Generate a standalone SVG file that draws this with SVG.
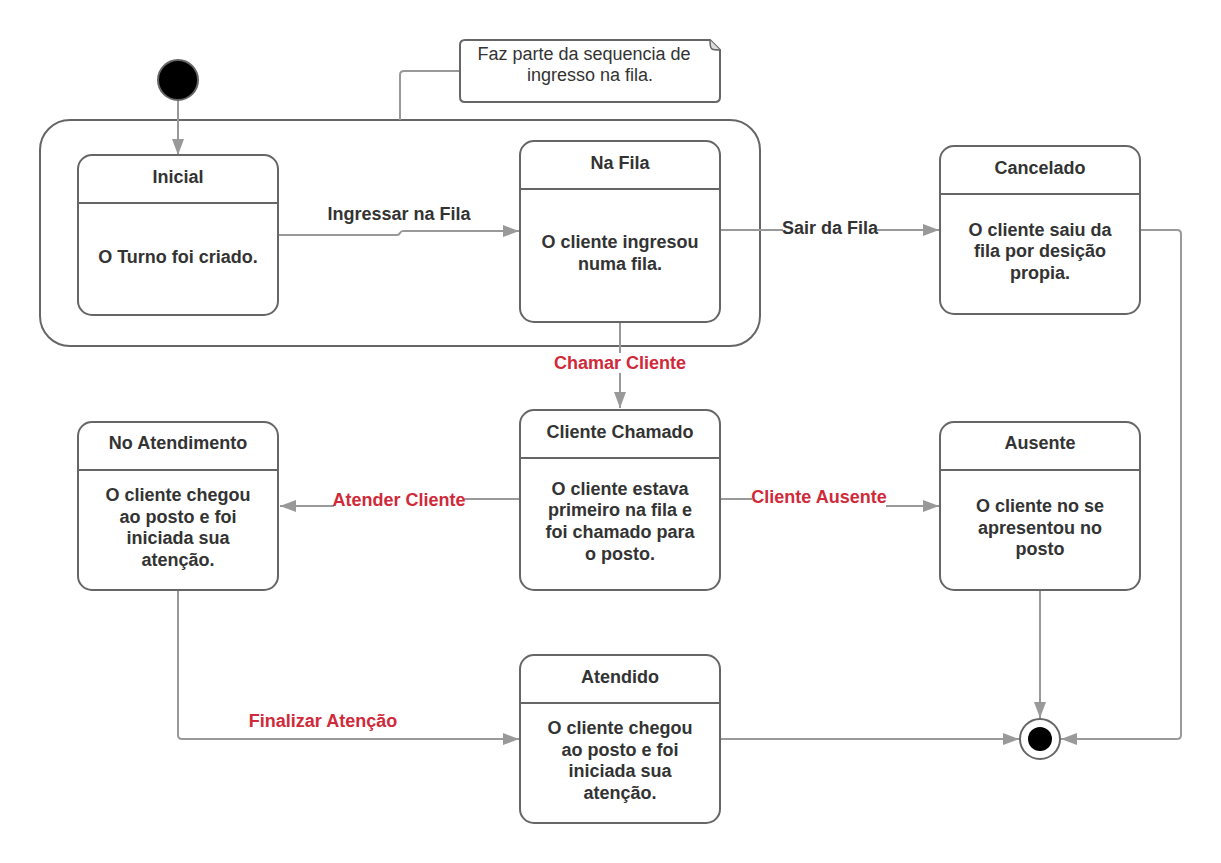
<svg xmlns="http://www.w3.org/2000/svg" width="1221" height="863" viewBox="0 0 1221 863">
<style>
.st{fill:#fff;stroke:#666;stroke-width:2}
.dv{stroke:#666;stroke-width:2}
.t{font-family:"Liberation Sans",Arial,sans-serif;font-size:18px;font-weight:bold;fill:#333;text-anchor:middle}
.n{font-family:"Liberation Sans",Arial,sans-serif;font-size:18px;fill:#333;text-anchor:middle}
.r{font-family:"Liberation Sans",Arial,sans-serif;font-size:18px;font-weight:bold;fill:#d02a3a;text-anchor:middle}
.c{fill:none;stroke:#999;stroke-width:2;marker-end:url(#ah)}
.cn{fill:none;stroke:#999;stroke-width:2}
</style>
<defs>
<marker id="ah" markerWidth="16" markerHeight="12" refX="16" refY="6" orient="auto" markerUnits="userSpaceOnUse">
<path d="M0,0 L16,6 L0,12 Z" fill="#999"/>
</marker>
</defs>
<rect width="1221" height="863" fill="#fff"/>
<g id="container"><rect x="40" y="120" width="720" height="226" rx="30" class="st"/></g>
<g id="connectors">
<path class="cn" d="M460,71 H404 Q400,71 400,75 V120"/>
<path class="c" d="M178,100 V155"/>
<path class="c" d="M278,235 H397 Q399,235 400,233 Q401,231 403,231 H519"/>
<path class="c" d="M720,230 H939"/>
<path class="c" d="M620,322 V408"/>
<path class="c" d="M520,499 H399 V506 H280"/>
<path class="c" d="M720,499 H829 V506 H939"/>
<path class="c" d="M1040,590 V718"/>
<path class="c" d="M1140,230 H1177 Q1181,230 1181,234 V735 Q1181,739 1177,739 H1061"/>
<path class="c" d="M178,590 V735 Q178,739 182,739 H519"/>
<path class="c" d="M720,739 H1019"/>
<rect x="783" y="219" width="94" height="18" fill="#fff"/>
<text class="t" x="830" y="234">Sair da Fila</text>
<text class="t" x="399" y="220">Ingressar na Fila</text>
<rect x="555" y="353" width="130" height="20" fill="#fff"/>
<text class="r" x="620" y="369">Chamar Cliente</text>
<rect x="334" y="490" width="130" height="20" fill="#fff"/>
<text class="r" x="399" y="506">Atender Cliente</text>
<rect x="752" y="488" width="134" height="20" fill="#fff"/>
<text class="r" x="819" y="503">Cliente Ausente</text>
<text class="r" x="323" y="727">Finalizar Atenção</text>
</g>
<g id="start"><circle cx="178" cy="80" r="20" fill="#000" stroke="#666" stroke-width="2"/></g>
<g id="note">
<path d="M465,40 H710 L720,50 V97 Q720,102 715,102 H465 Q460,102 460,97 V45 Q460,40 465,40 Z" class="st"/>
<path d="M710,40 Q710,48 712,49 Q714,50 720,50" fill="#ddd" stroke="#666" stroke-width="1.5"/>
<text class="n" x="584" y="60">Faz parte da sequencia de</text>
<text class="n" x="590" y="81">ingresso na fila.</text>
</g>
<g id="inicial">
<rect x="78" y="155" width="200" height="160" rx="14" class="st"/>
<line x1="78" y1="203" x2="278" y2="203" class="dv"/>
<text class="t" x="178" y="183">Inicial</text>
<text class="t" x="178" y="263">O Turno foi criado.</text>
</g>
<g id="nafila">
<rect x="520" y="141" width="200" height="181" rx="14" class="st"/>
<line x1="520" y1="189" x2="720" y2="189" class="dv"/>
<text class="t" x="620" y="169">Na Fila</text>
<text class="t" x="620" y="248">O cliente ingresou</text>
<text class="t" x="620" y="270">numa fila.</text>
</g>
<g id="cancelado">
<rect x="940" y="146" width="200" height="168" rx="14" class="st"/>
<line x1="940" y1="194" x2="1140" y2="194" class="dv"/>
<text class="t" x="1040" y="174">Cancelado</text>
<text class="t" x="1040" y="236">O cliente saiu da</text>
<text class="t" x="1040" y="257">fila por desição</text>
<text class="t" x="1040" y="279">propia.</text>
</g>
<g id="noatendimento">
<rect x="78" y="422" width="200" height="168" rx="14" class="st"/>
<line x1="78" y1="470" x2="278" y2="470" class="dv"/>
<text class="t" x="178" y="449">No Atendimento</text>
<text class="t" x="178" y="501">O cliente chegou</text>
<text class="t" x="178" y="523">ao posto e foi</text>
<text class="t" x="178" y="544">iniciada sua</text>
<text class="t" x="178" y="566">atenção.</text>
</g>
<g id="clientechamado">
<rect x="520" y="410" width="200" height="180" rx="14" class="st"/>
<line x1="520" y1="458" x2="720" y2="458" class="dv"/>
<text class="t" x="620" y="438">Cliente Chamado</text>
<text class="t" x="620" y="495">O cliente estava</text>
<text class="t" x="620" y="516">primeiro na fila e</text>
<text class="t" x="620" y="538">foi chamado para</text>
<text class="t" x="620" y="560">o posto.</text>
</g>
<g id="ausente">
<rect x="940" y="422" width="200" height="168" rx="14" class="st"/>
<line x1="940" y1="470" x2="1140" y2="470" class="dv"/>
<text class="t" x="1040" y="449">Ausente</text>
<text class="t" x="1040" y="512">O cliente no se</text>
<text class="t" x="1040" y="534">apresentou no</text>
<text class="t" x="1040" y="555">posto</text>
</g>
<g id="atendido">
<rect x="520" y="655" width="200" height="168" rx="14" class="st"/>
<line x1="520" y1="703" x2="720" y2="703" class="dv"/>
<text class="t" x="620" y="683">Atendido</text>
<text class="t" x="620" y="734">O cliente chegou</text>
<text class="t" x="620" y="756">ao posto e foi</text>
<text class="t" x="620" y="777">iniciada sua</text>
<text class="t" x="620" y="799">atenção.</text>
</g>
<g id="final">
<circle cx="1040" cy="739" r="20" fill="#fff" stroke="#666" stroke-width="2"/>
<circle cx="1040" cy="739" r="12" fill="#000"/>
</g>
</svg>
